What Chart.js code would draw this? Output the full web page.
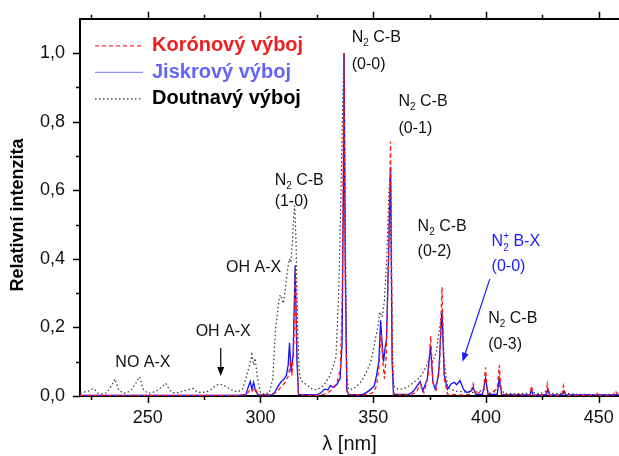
<!DOCTYPE html>
<html lang="cs">
<head>
<meta charset="UTF-8">
<title>Spektra výbojů</title>
<script src="https://cdn.jsdelivr.net/npm/chart.js"></script>
<style>
  body { margin: 0; background: #fff; }
  #wrap { width: 619px; height: 456px; }
</style>
</head>
<body>
<div id="wrap"><canvas id="spectra" width="619" height="456"></canvas></div>
<script>
// series names (legend order)
const seriesNames = ['Korónový výboj', 'Jiskrový výboj', 'Doutnavý výboj'];

// Korónový výboj - wavelength [nm] / relative intensity
const coronaWl = [220, 260, 290, 294, 295.5, 296.5, 297.5, 299, 305, 307, 309, 311, 312.5, 313.3, 314, 314.8, 315.5, 316, 316.8,
  320, 326, 328, 330, 332, 334, 335.5, 336.3, 337, 337.8, 338.5, 344, 348, 350, 351.5, 352.5, 353.5, 354.3, 355, 355.8, 356.8,
  357.7, 358.5, 359.2, 366, 369, 371, 372.5, 374.5, 375.5, 376.5, 378, 379.5, 380.5, 381.5, 383, 390, 393, 394.3, 395.5,
  399, 399.8, 400.7, 405, 405.9, 406.8, 412, 419.5, 420.2, 421, 426.5, 427.2, 428, 433.5, 434.4, 435.3, 449, 449.7, 450.4,
  456.5, 457.2, 459];
const coronaI = [0.002, 0.002, 0.002, 0.005, 0.02, 0.015, 0.025, 0.003, 0.003, 0.01, 0.025, 0.04, 0.06, 0.1, 0.06, 0.15, 0.37, 0.2, 0.005,
  0.002, 0.002, 0.005, 0.01, 0.02, 0.04, 0.08, 0.3, 1.0, 0.2, 0.005, 0.003, 0.005, 0.01, 0.03, 0.08, 0.18, 0.1, 0.05, 0.12, 0.4,
  0.742, 0.1, 0.003, 0.003, 0.01, 0.035, 0.01, 0.06, 0.175, 0.04, 0.02, 0.1, 0.318, 0.05, 0.005, 0.003, 0.005, 0.035, 0.003,
  0.02, 0.084, 0.005, 0.02, 0.09, 0.005, 0.003, 0.003, 0.03, 0.002, 0.003, 0.035, 0.002, 0.002, 0.03, 0.002, 0.002, 0.012, 0.002,
  0.002, 0.015, 0.002];

// Jiskrový výboj
const sparkWl = [220, 290, 293.5, 294.8, 295.5, 296.2, 297, 297.8, 299, 305, 306.3, 307.5, 309, 310.5, 311.5, 312.3, 312.9, 313.6,
  314.5, 315.4, 316.2, 316.9, 325, 327, 328.5, 330, 331, 332.5, 334, 335.3, 336.2, 336.8, 337.1, 337.6, 338.3, 339, 345, 347,
  349, 350.5, 351.5, 352.5, 353.3, 354, 354.6, 355.3, 355.9, 356.8, 357.7, 358.4, 359, 366, 368, 370.8, 372, 374, 375.4, 376.5,
  377.5, 379, 380.5, 381.5, 383, 384.5, 386, 387, 388.5, 390, 391.5, 393.5, 394.3, 395.5, 398.5, 399.8, 401, 405, 405.9, 407,
  419.5, 420.2, 421, 426.8, 427.4, 428.2, 434, 434.6, 435.4, 459];
const sparkI = [0.002, 0.002, 0.003, 0.03, 0.042, 0.02, 0.04, 0.015, 0.003, 0.003, 0.01, 0.025, 0.04, 0.05, 0.06, 0.09, 0.155, 0.07,
  0.12, 0.381, 0.1, 0.005, 0.003, 0.01, 0.02, 0.018, 0.03, 0.025, 0.035, 0.05, 0.15, 0.6, 1.0, 0.4, 0.02, 0.004, 0.004, 0.01,
  0.02, 0.03, 0.06, 0.1, 0.221, 0.15, 0.1, 0.14, 0.165, 0.4, 0.667, 0.1, 0.005, 0.005, 0.015, 0.042, 0.015, 0.05, 0.148, 0.04,
  0.02, 0.06, 0.25, 0.06, 0.02, 0.035, 0.04, 0.033, 0.045, 0.02, 0.01, 0.015, 0.025, 0.005, 0.005, 0.052, 0.005, 0.005, 0.052, 0.005,
  0.003, 0.015, 0.003, 0.003, 0.02, 0.003, 0.003, 0.015, 0.003, 0.003];

// Doutnavý výboj
const glowWl = [220, 222, 224, 226, 228, 230, 232, 234, 235.5, 237, 239, 241, 243, 245, 246.5, 248, 250, 252, 254, 256, 258, 260,
  262, 264, 266, 268, 270, 272, 274, 276, 278, 280, 282, 284, 286, 288, 290, 292, 294, 295.5, 296.2, 297, 297.7, 298.5, 300,
  302, 304, 305.5, 306.3, 306.8, 307.5, 308.2, 308.8, 309.5, 310.2, 310.8, 311.5, 312.3, 312.9, 313.5, 314.2, 314.8, 315.2,
  315.8, 316.5, 317.2, 318, 320, 323, 325, 328, 330.5, 332, 333.5, 334.7, 335.6, 336.3, 337, 337.6, 338.3, 339, 341, 343, 345,
  347, 349, 350.5, 352, 353, 354, 355, 356, 357, 357.7, 358.3, 359, 361, 363, 365, 367, 369, 371, 373, 375, 376.5, 378, 379.5,
  380.5, 381.5, 383, 385, 387, 390, 395, 400, 402, 405, 406, 408, 412, 418, 420, 424, 427, 430, 435, 440, 450, 459];
const glowI = [0.01, 0.012, 0.015, 0.022, 0.008, 0.006, 0.01, 0.03, 0.05, 0.02, 0.008, 0.01, 0.02, 0.04, 0.056, 0.02, 0.008, 0.01,
  0.015, 0.025, 0.037, 0.015, 0.008, 0.01, 0.015, 0.018, 0.022, 0.012, 0.01, 0.012, 0.018, 0.03, 0.035, 0.03, 0.022, 0.015,
  0.012, 0.02, 0.06, 0.1, 0.122, 0.09, 0.11, 0.06, 0.01, 0.005, 0.01, 0.05, 0.15, 0.2, 0.24, 0.28, 0.295, 0.285, 0.27, 0.3,
  0.34, 0.38, 0.4, 0.39, 0.45, 0.53, 0.555, 0.45, 0.2, 0.07, 0.045, 0.035, 0.02, 0.018, 0.03, 0.056, 0.08, 0.114, 0.3, 0.55,
  0.8, 1.0, 0.5, 0.06, 0.02, 0.02, 0.03, 0.045, 0.07, 0.1, 0.15, 0.2, 0.245, 0.23, 0.28, 0.4, 0.6, 0.66, 0.2, 0.03, 0.02,
  0.02, 0.025, 0.035, 0.045, 0.056, 0.08, 0.11, 0.1, 0.13, 0.2, 0.25, 0.1, 0.027, 0.018, 0.014, 0.012, 0.01, 0.02, 0.008, 0.015,
  0.03, 0.008, 0.006, 0.008, 0.012, 0.006, 0.015, 0.006, 0.008, 0.005, 0.004, 0.004];

// axis
const xMin = 220, xMax = 459;
const yMin = 0, yMax = 1.1;
const xTicks = [225, 250, 275, 300, 325, 350, 375, 400, 425, 450];
const yTicks = [0, 0.1, 0.2, 0.3, 0.4, 0.5, 0.6, 0.7, 0.8, 0.9, 1.0];

const FONT = '"Liberation Sans", Arial, sans-serif';

function toPoints(xs, ys) {
  return xs.map((x, i) => ({ x: x, y: ys[i] }));
}

// text with sub/superscripts, parts = [[text, kind]]
function drawRich(ctx, x, y, parts, size, align) {
  const small = Math.round(size * 0.62);
  let w = 0;
  const widths = parts.map(p => {
    ctx.font = (p[1] ? small : size) + 'px ' + FONT;
    let pw = ctx.measureText(p[1] === 'subsup' ? p[0][0] : p[0]).width;
    if (p[1] === 'subsup') {
      pw = Math.max(pw, ctx.measureText(p[0][1]).width);
    }
    w += pw;
    return pw;
  });
  let cx = align === 'center' ? x - w / 2 : x;
  ctx.textAlign = 'left';
  ctx.textBaseline = 'middle';
  parts.forEach((p, i) => {
    if (!p[1]) {
      ctx.font = size + 'px ' + FONT;
      ctx.fillText(p[0], cx, y);
    } else {
      ctx.font = small + 'px ' + FONT;
      if (p[1] === 'sub' || p[1] === 'subsup') {
        ctx.fillText(p[1] === 'subsup' ? p[0][0] : p[0], cx, y + size * 0.38);
      }
      if (p[1] === 'subsup') {
        ctx.fillText(p[0][1], cx, y - size * 0.38);
      }
    }
    cx += widths[i];
  });
}

function arrow(ctx, x1, y1, x2, y2, color) {
  const a = Math.atan2(y2 - y1, x2 - x1);
  ctx.strokeStyle = color;
  ctx.fillStyle = color;
  ctx.lineWidth = 1.2;
  ctx.setLineDash([]);
  ctx.beginPath();
  ctx.moveTo(x1, y1);
  ctx.lineTo(x2 - 6 * Math.cos(a), y2 - 6 * Math.sin(a));
  ctx.stroke();
  ctx.beginPath();
  ctx.moveTo(x2, y2);
  ctx.lineTo(x2 - 9 * Math.cos(a) + 3.5 * Math.sin(a), y2 - 9 * Math.sin(a) - 3.5 * Math.cos(a));
  ctx.lineTo(x2 - 9 * Math.cos(a) - 3.5 * Math.sin(a), y2 - 9 * Math.sin(a) + 3.5 * Math.cos(a));
  ctx.closePath();
  ctx.fill();
}

const n2 = [['N'], ['2', 'sub'], [' C-B']];
const notes = [
  { x: 247.9, y: 0.096, parts: [['NO A-X']], align: 'center' },
  { x: 283.5, y: 0.189, parts: [['OH A-X']], align: 'center' },
  { x: 297, y: 0.374, parts: [['OH A-X']], align: 'center' },
  { x: 306.3, y: 0.629, parts: n2 },
  { x: 306.3, y: 0.568, parts: [['(1-0)']] },
  { x: 340.5, y: 1.046, parts: n2 },
  { x: 340.5, y: 0.967, parts: [['(0-0)']] },
  { x: 361.2, y: 0.86, parts: n2 },
  { x: 361.2, y: 0.779, parts: [['(0-1)']] },
  { x: 369.7, y: 0.495, parts: n2 },
  { x: 369.7, y: 0.42, parts: [['(0-2)']] },
  { x: 402.5, y: 0.449, parts: [['N'], [['2', '+'], 'subsup'], [' B-X']], color: '#1a1aff' },
  { x: 402.5, y: 0.378, parts: [['(0-0)']], color: '#1a1aff' },
  { x: 401, y: 0.226, parts: n2 },
  { x: 401, y: 0.15, parts: [['(0-3)']] }
];

const annotate = {
  id: 'annotate',
  afterDatasetsDraw(chart) {
    const ctx = chart.ctx;
    const xs = chart.scales.x, ys = chart.scales.y;
    const area = chart.chartArea;
    ctx.save();
    notes.forEach(n => {
      ctx.fillStyle = n.color || '#111';
      drawRich(ctx, xs.getPixelForValue(n.x), ys.getPixelForValue(n.y), n.parts, 16, n.align || 'left');
    });
    arrow(ctx, xs.getPixelForValue(282.4), ys.getPixelForValue(0.14),
      xs.getPixelForValue(282.4), ys.getPixelForValue(0.058), '#000');
    arrow(ctx, xs.getPixelForValue(401.7), ys.getPixelForValue(0.341),
      xs.getPixelForValue(389.6), ys.getPixelForValue(0.1), '#1a1aff');

    // legend in the upper left corner
    const legend = [
      { line: '#ff3030', dash: [4, 3], text: '#ee2020' },
      { line: '#8c8cff', dash: [], text: '#6464f8' },
      { line: '#333', dash: [1.5, 2.5], text: '#000' }
    ];
    legend.forEach((l, i) => {
      const y = area.top + 27 + i * 26.5;
      ctx.strokeStyle = l.line;
      ctx.lineWidth = 1.2;
      ctx.setLineDash(l.dash);
      ctx.beginPath();
      ctx.moveTo(area.left + 15, y);
      ctx.lineTo(area.left + 63, y);
      ctx.stroke();
      ctx.setLineDash([]);
      ctx.fillStyle = l.text;
      ctx.font = 'bold 20px ' + FONT;
      ctx.textAlign = 'left';
      ctx.textBaseline = 'middle';
      ctx.fillText(seriesNames[i], area.left + 72, y);
    });
    ctx.restore();
  },
  afterDraw(chart) {
    // tick marks (major long, minor short) and y axis title
    const ctx = chart.ctx;
    const xs = chart.scales.x, ys = chart.scales.y;
    const area = chart.chartArea;
    ctx.save();
    ctx.strokeStyle = '#000';
    ctx.lineWidth = 1.5;
    ctx.beginPath();
    xTicks.forEach(t => {
      const px = Math.round(xs.getPixelForValue(t)) + 0.5;
      const len = t % 50 === 0 ? 7 : 4;
      ctx.moveTo(px, area.bottom);
      ctx.lineTo(px, area.bottom + len);
      ctx.moveTo(px, area.top);
      ctx.lineTo(px, area.top - len);
    });
    yTicks.forEach(t => {
      const py = Math.round(ys.getPixelForValue(t)) + 0.5;
      const len = Math.round(t * 10) % 2 === 0 ? 7 : 4;
      ctx.moveTo(area.left, py);
      ctx.lineTo(area.left - len, py);
    });
    ctx.stroke();
    ctx.translate(18, 215);
    ctx.rotate(-Math.PI / 2);
    ctx.fillStyle = '#000';
    ctx.font = 'bold 18px ' + FONT;
    ctx.textAlign = 'center';
    ctx.textBaseline = 'middle';
    ctx.fillText('Relativní intenzita', 0, 0);
    ctx.restore();
  }
};

const noTicks = { drawOnChartArea: false, drawTicks: true, tickLength: 7, tickColor: 'rgba(0,0,0,0)' };

const ctx = document.getElementById('spectra').getContext('2d');
new Chart(ctx, {
  type: 'line',
  data: {
    datasets: [
      {
        label: seriesNames[0],
        data: toPoints(coronaWl, coronaI),
        borderColor: '#ff1a1a',
        borderWidth: 1.3,
        borderDash: [4, 3]
      },
      {
        label: seriesNames[1],
        data: toPoints(sparkWl, sparkI),
        borderColor: '#1010ff',
        borderWidth: 1.3
      },
      {
        label: seriesNames[2],
        data: toPoints(glowWl, glowI),
        borderColor: '#333',
        borderWidth: 1.2,
        borderDash: [1.5, 2.5]
      }
    ]
  },
  options: {
    responsive: false,
    animation: false,
    devicePixelRatio: 1,
    layout: { padding: 0 },
    elements: { point: { radius: 0 }, line: { tension: 0 } },
    plugins: { legend: { display: false }, tooltip: { enabled: false } },
    scales: {
      x: {
        type: 'linear',
        position: 'bottom',
        min: xMin,
        max: xMax,
        afterFit: s => { s.height = 60; },
        afterBuildTicks: s => { s.ticks = xTicks.map(v => ({ value: v })); },
        border: { color: '#000', width: 2 },
        grid: noTicks,
        ticks: {
          maxRotation: 0,
          autoSkip: false,
          padding: 4,
          color: '#111',
          font: { family: FONT, size: 18 },
          callback: v => (v % 50 === 0 ? String(v) : '')
        },
        title: {
          display: true,
          text: 'λ [nm]',
          color: '#111',
          font: { family: FONT, size: 20 },
          padding: { top: 0, bottom: 0 }
        }
      },
      xTop: {
        type: 'linear',
        position: 'top',
        min: xMin,
        max: xMax,
        afterFit: s => { s.height = 18; },
        border: { color: '#000', width: 2 },
        grid: { display: false },
        ticks: { display: false }
      },
      y: {
        type: 'linear',
        min: yMin,
        max: yMax,
        afterFit: s => { s.width = 80; },
        afterBuildTicks: s => { s.ticks = yTicks.map(v => ({ value: v })); },
        border: { color: '#000', width: 2 },
        grid: noTicks,
        ticks: {
          autoSkip: false,
          padding: 8,
          color: '#111',
          font: { family: FONT, size: 18 },
          callback: v => (Math.round(v * 10) % 2 === 0 ? v.toFixed(1).replace('.', ',') : '')
        }
      }
    }
  },
  plugins: [annotate]
});
</script>
</body>
</html>
